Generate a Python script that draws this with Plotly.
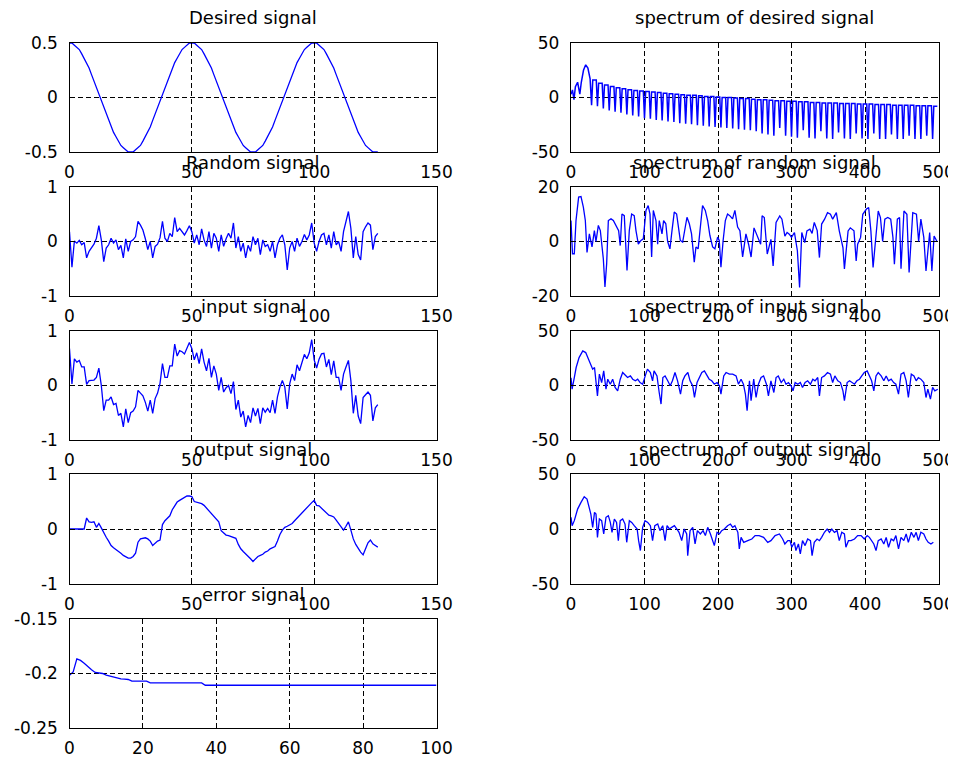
import plotly.graph_objects as go

# ---------------- data ----------------
SIG_N = list(range(127))

DESIRED = [
    0.50, 0.50, 0.48, 0.46, 0.44, 0.40, 0.36, 0.32, 0.27, 0.21,
    0.15, 0.09, 0.03, -0.03, -0.09, -0.15, -0.21, -0.27, -0.32, -0.36,
    -0.40, -0.44, -0.46, -0.48, -0.50, -0.50, -0.50, -0.48, -0.46, -0.44,
    -0.40, -0.36, -0.32, -0.27, -0.21, -0.15, -0.09, -0.03, 0.03, 0.09,
    0.15, 0.21, 0.27, 0.32, 0.36, 0.40, 0.44, 0.46, 0.48, 0.50,
    0.50, 0.50, 0.48, 0.46, 0.44, 0.40, 0.36, 0.32, 0.27, 0.21,
    0.15, 0.09, 0.03, -0.03, -0.09, -0.15, -0.21, -0.27, -0.32, -0.36,
    -0.40, -0.44, -0.46, -0.48, -0.50, -0.50, -0.50, -0.48, -0.46, -0.44,
    -0.40, -0.36, -0.32, -0.27, -0.21, -0.15, -0.09, -0.03, 0.03, 0.09,
    0.15, 0.21, 0.27, 0.32, 0.36, 0.40, 0.44, 0.46, 0.48, 0.50,
    0.50, 0.50, 0.48, 0.46, 0.44, 0.40, 0.36, 0.32, 0.27, 0.21,
    0.15, 0.09, 0.03, -0.03, -0.09, -0.15, -0.21, -0.27, -0.32, -0.36,
    -0.40, -0.44, -0.46, -0.48, -0.50, -0.50, -0.50,
]

RANDOM = [
    0.18, -0.47, 0.01, -0.03, 0.02, -0.06, -0.02, -0.30, -0.18, -0.12,
    -0.05, 0.06, 0.29, 0.03, -0.37, -0.12, -0.06, 0.06, -0.03, 0.03,
    -0.15, -0.07, -0.30, 0.05, -0.18, 0.00, 0.03, 0.09, 0.37, 0.30,
    0.21, 0.05, -0.15, 0.00, -0.30, -0.09, -0.05, 0.07, 0.37, 0.06,
    0.00, 0.15, 0.09, 0.44, 0.18, 0.24, 0.18, 0.12, 0.20, 0.29,
    0.18, -0.03, 0.12, -0.06, 0.23, 0.03, -0.09, 0.18, -0.12, 0.15,
    0.06, -0.18, 0.12, -0.09, 0.05, 0.15, 0.06, 0.34, -0.12, 0.09,
    -0.18, -0.03, -0.30, -0.07, -0.18, 0.09, -0.06, 0.06, -0.24, 0.03,
    -0.09, -0.06, -0.18, 0.00, -0.30, -0.06, 0.06, 0.12, -0.06, -0.52,
    -0.12, 0.00, -0.18, 0.06, -0.09, 0.00, 0.13, 0.03, 0.12, 0.34,
    -0.03, -0.18, 0.00, 0.12, 0.15, -0.06, 0.12, -0.12, 0.18, -0.06,
    0.00, -0.18, 0.18, 0.37, 0.55, 0.24, -0.30, 0.09, -0.24, -0.34,
    0.18, 0.27, 0.34, 0.30, -0.15, 0.09, 0.15,
]

INPUT = [
    0.68, 0.03, 0.49, 0.43, 0.46, 0.34, 0.34, 0.02, 0.09, 0.09,
    0.10, 0.15, 0.32, 0.00, -0.46, -0.27, -0.27, -0.21, -0.35, -0.33,
    -0.55, -0.51, -0.76, -0.43, -0.68, -0.50, -0.47, -0.39, -0.09, -0.14,
    -0.19, -0.31, -0.47, -0.27, -0.51, -0.24, -0.14, 0.04, 0.40, 0.15,
    0.15, 0.36, 0.36, 0.76, 0.54, 0.64, 0.62, 0.58, 0.68, 0.79,
    0.68, 0.47, 0.60, 0.40, 0.67, 0.43, 0.27, 0.50, 0.15, 0.36,
    0.21, -0.09, 0.15, -0.12, -0.04, 0.00, -0.15, 0.07, -0.44, -0.27,
    -0.58, -0.47, -0.76, -0.55, -0.68, -0.41, -0.56, -0.42, -0.70, -0.41,
    -0.49, -0.42, -0.50, -0.27, -0.51, -0.21, -0.03, 0.09, -0.03, -0.43,
    0.03, 0.21, 0.09, 0.38, 0.27, 0.40, 0.57, 0.49, 0.60, 0.84,
    0.47, 0.32, 0.48, 0.58, 0.59, 0.34, 0.48, 0.20, 0.45, 0.15,
    0.15, -0.09, 0.21, 0.34, 0.46, 0.09, -0.51, -0.18, -0.56, -0.70,
    -0.22, -0.17, -0.12, -0.18, -0.65, -0.41, -0.35,
]

OUTPUT = [
    0.00, 0.00, 0.00, 0.00, 0.00, 0.00, 0.00, 0.20, 0.13, 0.12,
    0.13, 0.03, 0.10, 0.02, -0.08, -0.15, -0.22, -0.30, -0.34, -0.37,
    -0.40, -0.44, -0.48, -0.50, -0.53, -0.53, -0.50, -0.44, -0.24, -0.18,
    -0.17, -0.16, -0.18, -0.22, -0.30, -0.26, -0.22, -0.20, 0.08, 0.15,
    0.19, 0.24, 0.35, 0.42, 0.49, 0.52, 0.55, 0.57, 0.60, 0.60,
    0.59, 0.50, 0.49, 0.47, 0.46, 0.43, 0.38, 0.35, 0.30, 0.25,
    0.18, 0.13, -0.03, -0.08, -0.11, -0.12, -0.14, -0.15, -0.17, -0.28,
    -0.36, -0.41, -0.45, -0.50, -0.54, -0.59, -0.55, -0.50, -0.48, -0.46,
    -0.42, -0.40, -0.36, -0.34, -0.32, -0.22, -0.10, -0.02, 0.03, 0.05,
    0.07, 0.10, 0.15, 0.20, 0.25, 0.28, 0.33, 0.38, 0.43, 0.48,
    0.52, 0.43, 0.42, 0.38, 0.34, 0.30, 0.25, 0.24, 0.22, 0.16,
    0.10, 0.02, -0.02, 0.05, 0.13, -0.02, -0.18, -0.28, -0.36, -0.42,
    -0.47, -0.35, -0.25, -0.20, -0.27, -0.30, -0.33,
]

ERR_X = [0, 1, 2, 3, 4, 5, 6, 7, 8, 9, 10, 11, 12, 13, 14, 15, 16, 17, 21, 22, 36, 37, 100]
ERR_Y = [-0.2015, -0.1985, -0.1865, -0.1880, -0.1905, -0.1940, -0.1965, -0.1990, -0.1995,
         -0.2000, -0.2015, -0.2025, -0.2035, -0.2045, -0.2050, -0.2052, -0.2055, -0.2070,
         -0.2070, -0.2086, -0.2086, -0.2108, -0.2108]

# spectrum of desired signal: main lobe read point by point ...
SPEC_DES_HEAD_X = [0, 2, 4, 6, 9, 12, 14, 17, 20, 23, 26]
SPEC_DES_HEAD_Y = [3, 7, -2, 10, 14, 3, 14, 25, 30, 27, 17]
# ... then the side-lobe comb: one null every 8 Hz starting at 28 Hz, lobe top after each null
SPEC_DES_NULL0, SPEC_DES_LOBE = 28, 8
SPEC_DES_NULLS = [
    -7, -8, -10, -12, -13, -14, -15.5, -16.5, -17.5, -19,
    -19.5, -20.5, -21, -22, -22.5, -23.5, -24, -24.5, -25.5, -26,
    -26.5, -27, -27.5, -28, -28.5, -29, -29.5, -30, -31, -33,
    -34, -35, -28, -35, -36, -37, -30, -37, -37.5, -31,
    -37.5, -38, -32, -37.5, -38, -33, -37.5, -38, -33, -38,
    -38, -34, -38, -38, -35, -38, -38, -35, -38,
]
SPEC_DES_TOPS = [
    16, 13, 11.5, 10, 9, 8, 7, 6.5, 6, 5.5,
    5, 4.5, 4, 3.5, 3, 2.5, 2, 2, 1.5, 1,
    1, 0.5, 0, 0, -0.5, -1, -1, -1.5, -2, -2,
    -2.5, -3, -3, -3.5, -3.5, -4, -4, -4.5, -4.5, -5,
    -5, -5, -5.5, -5.5, -5.5, -6, -6, -6, -6.5, -6.5,
    -6.5, -7, -7, -7, -7, -7.5, -7.5, -7.5, -8,
]

SPEC_RND_X = [0, 2, 4.5, 6.8, 10.4, 13.6, 16.8, 19.5, 21.8, 25, 28.6, 31.8, 34, 37.2, 39.9, 41.7, 44,
              46.2, 48.5, 50.8, 54.4, 57.6, 61, 64.8, 67, 69.3, 72.5, 76.2, 79.3, 82.5, 86, 88.4,
              91.6, 95.2, 98.4, 102, 105, 107.5, 109.7, 112, 115.6, 117.9, 120.1, 123.8, 126, 129,
              131.5, 134.6, 137.4, 140.5, 143.7, 146, 148.7, 151.9, 155, 157.8, 161, 164, 167.7,
              170, 173, 175.9, 179, 182.7, 185.9, 189, 192.7, 195.8, 199.5, 201.7, 204, 207, 210,
              213, 216, 219.8, 223, 226.7, 229.8, 233.5, 238, 241.6, 245, 249, 253, 258, 260, 263,
              267, 272, 275, 279, 284, 287, 291, 294, 297, 300, 304, 308, 311, 314, 318, 321, 325,
              328, 331, 335, 338, 341, 345, 349, 353, 356, 361, 365, 370, 372, 377, 380, 385, 388,
              390, 394, 397, 402, 405, 408, 411, 414, 418, 421, 424, 427, 431, 435, 438, 440, 444,
              447, 449, 453, 457, 460, 465, 470, 473, 476, 480, 483, 488, 491, 494, 498]
SPEC_RND_Y = [7.7, -4.5, -4.5, 7.7, 16.3, 16.5, 12.6, 7.7, -4, 2.8, -2, 4, 0, 5.9, 4, -1, -6.4,
              -16.7, -8.2, 7.7, 8.3, 7.7, 5.9, 4, -1.5, 10.1, 9.5, -10.6, 4, 10.1, 9.5, 4,
              -1, 0.4, 1, 11.4, 13.2, 10.1, -5.7, 11.4, 7.7, -1, 7.7, 2.8, 7.7, 6.5,
              0, -2.7, 4, 10.8, 10.1, 5.3, 0.4, -0.2, 5.3, 8.9, 6.5, 2.8, -7.6,
              -2, -2.7, 5.3, 13.2, 11.4, 7.7, 2.2, -2, -2.7, 1.6, 0.4, -9.4, 0.4, 7.7,
              10.1, 9.5, 8.3, 11.4, 5.3, 4, -5.7, 2.8, -1, -5.7, 5, 2, -1, 9.4, 8.8,
              -4.6, 0.8, -9, 7, 9.4, 8.2, 2, 3.3, 2.7, 1.5, 3.3, -3.4, -16.9, 3.3, -0.4, 3.9, 4.5,
              3, 7, 4, -5.9, 6.4, 8.2, 10.6, 10, 8.2, 10.6, 3.9, -2.2, -10.1, 3.9, 5, 3.9, -7.1,
              -1, 1.5, 10, 11.9, 12.5, 3.9, -9.5, -1, 11.2, 8.8, 0, 8.2, 8.8, 8.2, 1.5, -8.3, 8.2,
              8.8, -10, 11.2, 10, -11.4, 10.6, 10, 0, 8.2, 1.5, -10.8, 3.3, -10.8, 2, 0]

SPEC_IN_X = [0, 1.5, 4.5, 7, 11, 16, 20, 23.6, 27, 29.5, 32, 34, 36, 38.6, 41.7, 44.5, 47.6, 50,
             53.5, 56.7, 60, 63.5, 67, 70.3, 74, 77, 80.8, 84, 87.6, 90.7, 94, 97.5, 101, 104,
             108, 111, 113, 117, 120, 122.5, 125, 128, 131.6, 135, 138, 141.5, 145, 149, 152,
             155, 159, 162, 165.6, 168, 171.5, 174.7, 178, 181.5, 185, 188, 191.5, 195, 198.7,
             202, 204, 207.8, 211, 215.5, 220, 224.6, 227.8, 231.4, 234.6, 237.3, 239.6, 242.8,
             245, 248.6, 251.8, 255, 258.6, 262, 265.9, 268.6, 272, 276, 279, 282, 286, 289.5,
             292.6, 295.8, 299.5, 302, 305, 308.5, 312, 315, 318.5, 322, 325.8, 329, 332, 335.7,
             338, 341, 344.8, 349, 353, 356, 359, 363, 366.6, 370, 372, 375.7, 379, 382, 385.7,
             389, 392.5, 395.6, 399, 403, 406, 409, 412, 415, 418, 422, 425.6, 428.8, 432, 435.6,
             439, 442, 445.6, 449, 452.8, 456, 459, 463, 466.6, 469.6, 472.6, 476, 480, 483,
             485.5, 489, 492, 495, 499]
SPEC_IN_Y = [7, -3.4, 7.3, 16.5, 25.6, 31.7, 30.2, 24.1, 18, 15, 16.5, -0.3, -9.5, 10.4, 2.7, 13.4,
             -3.4, 5.8, 1.2, 5.8, -1.8, -4.9, 5.8, 11.9, 8.8, 7.3, 8.8, 5.8, 4.3, 5.8, 2.7, 1.2,
             8.8, 15, 11.9, 4.3, 13.4, 8.8, -6.4, -17, 7.3, 8.8, 4.3, -0.3, 4.3, 11.9, 4.3, -7.9,
             4.3, 8.8, 11.9, 4.3, -0.3, -11, 2.7, 7.3, 11.9, 13.4, 8.8, 5.8, 4.3, 1.2, 2.7,
             -0.3, -7.9, 8.8, 11.9, 10.4, 10.4, 8.8, 1.2, 5.8, 1.2, -7.9, -23.2, 4.3,
             -14, 5.8, -11, 1.2, 7.3, 8.8, 1.2, -9.5, 4.3, -6.4, 7.3, 8.8, 2.7, 5.8,
             1.2, 2.7, -0.3, -4.9, 2.7, 1.2, 2.7, -1.8, 2.7, 4.3, 1.2, 5.8, 4.3, 7.3,
             -9.5, 7.3, 8.8, 11.9, 10.4, 2.7, 8.8, 4.3, 2.7, -4.9, -14, 2.7, 4.3, 2.7, 1.2,
             4.3, 5.8, 8.8, 11.9, 13.4, 8.8, 4.3, -4.9, 8.8, 11.9, 8.8, 4.3, 8.8, 4.3, 5.8,
             2.7, 1.2, -7.9, 10.4, 11.9, 4.3, -11, 10.4, 8.8, 4.3, 7.3, 5.8, 2.7, -11,
             -3.4, -12.5, -1.8, -4.9, -3.4]

SPEC_OUT_X = [0, 1.5, 4.5, 9, 13.6, 18, 21.8, 25, 27, 29.5, 32, 34, 36, 38.6, 41.7, 44.5, 47.6,
              50.8, 53.5, 55.8, 59, 62, 64.4, 67, 70.3, 73.5, 75.8, 79.4, 82.6, 86, 90, 92, 94.4,
              97.5, 100.7, 104.4, 108, 111, 114, 118, 121, 124.8, 128, 130.7, 134, 137, 140.7, 144,
              147, 150.6, 154, 157.4, 158.8, 162, 165.6, 168.8, 172, 176, 179.7, 182.8, 186, 189.7,
              192.8, 195, 198.7, 202, 205, 208.7, 213, 216.9, 220, 223, 227, 229, 231.4, 235, 240.5,
              246, 250.5, 256, 262, 267.7, 272, 277.7, 283.6, 288, 291, 295, 298, 300.4, 304, 306,
              309.4, 312, 315, 318.5, 322, 325.8, 328, 331, 334.8, 338, 341, 344.8, 348.5, 351.6,
              354.8, 358.4, 362, 365, 368.4, 372, 374, 377.5, 381, 385.7, 390, 394.7, 399, 403, 406,
              409, 412, 415, 418, 422, 425.6, 428.8, 432, 435.6, 439, 442, 445.6, 449, 452.8, 456,
              459, 463, 466.6, 469.6, 472.6, 476, 480, 483, 486, 489.7, 493]
SPEC_OUT_Y = [10.6, 3, 7.6, 18.1, 24.2, 29.3, 27.2, 19.6, 13.6, 1.5, 15.1, 13.6, -7.6, 9.1, 7.6, -4.5,
              10.6, 12.1, 6, -3, 9.1, 6, -10.6, 7.6, 9.1, 4.5, -12.1, 7.6, 6, 3, 0, -10.6, -19.6,
              1.5, 7.6, 6, 3, -10.6, 3, 4.5, -1.5, 3, -10.6, 3, 0, 1.5, 3, 0,
              -3, -10.6, 0, -4.5, -24.2, -1.5, 1.5, -13.6, -1.5, -4.5, -1.5, -6, 1.5, -4.5,
              -10.6, -15.1, -3, -4.5, -1.5, 0, 3, 4.5, 1.5, 3, -3, -18.1, -7.6, -12.1, -10.6,
              -9.1, -6, -6, -7.6, -12.1, -10.6, -6, -4.5, -9.1, -13.6, -10.6, -10.6, -16.6, -12.1, -19.6,
              -13.6, -22.7, -10.6, -15.1, -9.1, -10.6, -24.2, -12.1, -9.1, -10.6, -7.6, -3, 0, -3,
              0, -3, -1.5, -10.6, -3, -4.5, -16.6, -10.6, -10.6, -9.1, -6, -6, -9.1, -6, -7.6,
              -10.6, -13.6, -19.6, -10.6, -9.1, -13.6, -7.6, -16.6, -9.1, -10.6, -6, -18.1, -7.6, -10.6, -4.5,
              -12.1, -3, -7.6, -3, -10.6, -3, -4.5, -9.1, -12.1, -13.6, -12.1]

TITLES = ["Desired signal", "spectrum of desired signal",
          "Random signal", "spectrum of random signal",
          "input signal", "spectrum of input signal",
          "output signal", "spectrum of output signal",
          "error signal"]

SIG_XTICKS = [0, 50, 100, 150]
SPEC_XTICKS = [0, 100, 200, 300, 400, 500]
ERR_XTICKS = [0, 20, 40, 60, 80, 100]

# ---------------- build the desired-spectrum polyline ----------------
# each null is drawn as a narrow notch, each lobe top as a short flat segment
des_x, des_y = list(SPEC_DES_HEAD_X), list(SPEC_DES_HEAD_Y)
for k, bottom in enumerate(SPEC_DES_NULLS):
    xb = SPEC_DES_NULL0 + SPEC_DES_LOBE * k
    des_x.append(xb)
    des_y.append(bottom)
    if k < len(SPEC_DES_TOPS):
        des_x += [xb + 1.6, xb + SPEC_DES_LOBE - 1.6]
        des_y += [SPEC_DES_TOPS[k], SPEC_DES_TOPS[k]]

# ---------------- layout (pixels of the 956x761 window) ----------------
PAGE_OFF = 8            # default body margin of the html page
W, H = 956 - PAGE_OFF, 761 - PAGE_OFF
COLS = [(69.5, 436.5), (571.0, 938.5)]
ROWS = [(43, 152), (187, 296), (331, 440), (474, 584), (619, 728)]

panels = [
    # (row, col, x, y, xrange, xticks, yrange, yticks, yticktext, linewidth)
    (0, 0, SIG_N, DESIRED, [0, 150], SIG_XTICKS, [-0.5, 0.5], [-0.5, 0, 0.5], ["-0.5", "0", "0.5"], 1.3),
    (0, 1, des_x, des_y, [0, 500], SPEC_XTICKS, [-50, 50], [-50, 0, 50], ["-50", "0", "50"], 1.5),
    (1, 0, SIG_N, RANDOM, [0, 150], SIG_XTICKS, [-1, 1], [-1, 0, 1], ["-1", "0", "1"], 1.3),
    (1, 1, SPEC_RND_X, SPEC_RND_Y, [0, 500], SPEC_XTICKS, [-20, 20], [-20, 0, 20], ["-20", "0", "20"], 1.3),
    (2, 0, SIG_N, INPUT, [0, 150], SIG_XTICKS, [-1, 1], [-1, 0, 1], ["-1", "0", "1"], 1.3),
    (2, 1, SPEC_IN_X, SPEC_IN_Y, [0, 500], SPEC_XTICKS, [-50, 50], [-50, 0, 50], ["-50", "0", "50"], 1.3),
    (3, 0, SIG_N, OUTPUT, [0, 150], SIG_XTICKS, [-1, 1], [-1, 0, 1], ["-1", "0", "1"], 1.3),
    (3, 1, SPEC_OUT_X, SPEC_OUT_Y, [0, 500], SPEC_XTICKS, [-50, 50], [-50, 0, 50], ["-50", "0", "50"], 1.3),
    (4, 0, ERR_X, ERR_Y, [0, 100], ERR_XTICKS, [-0.25, -0.15], [-0.25, -0.2, -0.15], ["-0.25", "-0.2", "-0.15"], 1.3),
]

TICK_FONT = dict(family="DejaVu Sans, Arial, sans-serif", size=17, color="black")
TITLE_FONT = dict(family="DejaVu Sans, Arial, sans-serif", size=18, color="black")
DASH = "5px,3px"

fig = go.Figure()
layout = dict(width=W, height=H, margin=dict(l=0, r=0, t=0, b=0, pad=0),
              paper_bgcolor="white", plot_bgcolor="white", showlegend=False,
              annotations=[])

for i, (r, c, xs, ys, xr, xt, yr, yt, ytt, lw) in enumerate(panels, start=1):
    x0, x1 = (v - PAGE_OFF for v in COLS[c])
    t, b = (v - PAGE_OFF for v in ROWS[r])
    fig.add_trace(go.Scatter(x=xs, y=ys, mode="lines",
                             line=dict(color="#0000ff", width=lw),
                             xaxis=f"x{i}", yaxis=f"y{i}", hoverinfo="skip"))
    common = dict(showline=True, linecolor="black", linewidth=1.3, mirror="ticks",
                  ticks="inside", ticklen=5, tickcolor="black", tickwidth=1,
                  showgrid=True, gridcolor="black", gridwidth=1.2, griddash=DASH,
                  zeroline=False, tickfont=TICK_FONT, fixedrange=True, automargin=False)
    layout[f"xaxis{i}"] = dict(domain=[x0 / W, x1 / W], anchor=f"y{i}", range=xr,
                               tickmode="array", tickvals=xt,
                               ticktext=[str(v) for v in xt],
                               ticklabelstandoff=4, **common)
    layout[f"yaxis{i}"] = dict(domain=[1 - b / H, 1 - t / H], anchor=f"x{i}", range=yr,
                               tickmode="array", tickvals=yt, ticktext=ytt,
                               ticklabelstandoff=7, **common)
    layout["annotations"].append(dict(
        text=TITLES[i - 1], x=(x0 + x1) / 2 / W, y=1 - (t - 25) / H,
        xref="paper", yref="paper", xanchor="center", yanchor="middle",
        showarrow=False, font=TITLE_FONT))

fig.update_layout(**layout)
fig.write_html("out.html")
